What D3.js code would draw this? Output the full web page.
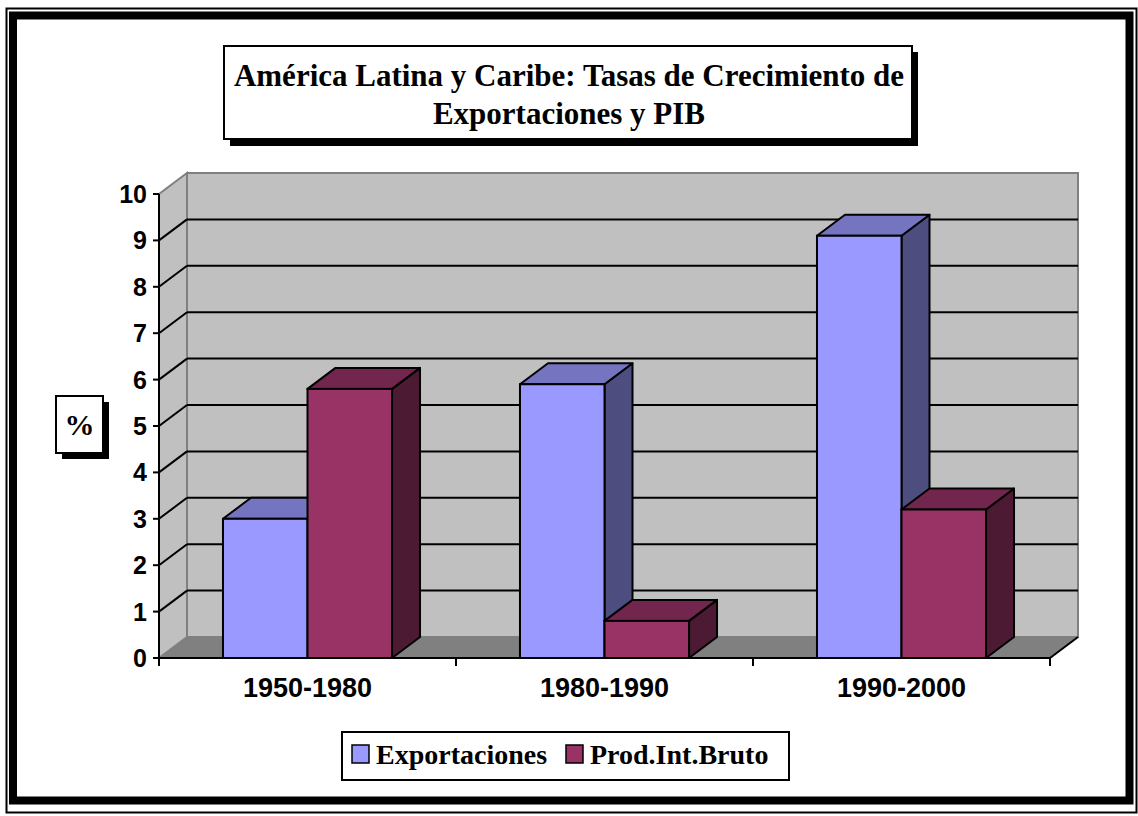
<!DOCTYPE html>
<html>
<head>
<meta charset="utf-8">
<script src="https://d3js.org/d3.v7.min.js"></script>
<style>
  body { margin: 0; background: #fff; }
  .ytick { font-family: "Liberation Sans", Arial, sans-serif; font-weight: bold; font-size: 25px; }
  .xtick { font-family: "Liberation Sans", Arial, sans-serif; font-weight: bold; font-size: 27px; }
  .serif { font-family: "Liberation Serif", "Times New Roman", serif; font-weight: bold; }
</style>
</head>
<body>
<script>
// data
var categories = ['1950-1980', '1980-1990', '1990-2000'];
var seriesNames = ['Exportaciones', 'Prod.Int.Bruto'];
var exportaciones = [3.0, 5.9, 9.1];
var pib = [5.8, 0.8, 3.2];
var yTicks = [0, 1, 2, 3, 4, 5, 6, 7, 8, 9, 10];

var W = 1138, H = 816;
var colors = {
  'Exportaciones': {front: '#9999FF', top: '#7474C0', side: '#4D4D80'},
  'Prod.Int.Bruto': {front: '#993366', top: '#73264D', side: '#4D1A33'}
};

// plot geometry (front plane) and depth
var x0 = 159, x1 = 1050, yBase = 658, yTopPx = 194;
var dx = 28, dy = -21;

var svg = d3.select('body').append('svg')
  .attr('width', W).attr('height', H);

// outer frame: thin line plus thick border
svg.append('rect').attr('x', 6.5).attr('y', 8.5).attr('width', 1130).attr('height', 804)
  .attr('fill', 'none').attr('stroke', '#000').attr('stroke-width', 2);
svg.append('rect').attr('x', 13).attr('y', 15.5).attr('width', 1116.5).attr('height', 785)
  .attr('fill', 'none').attr('stroke', '#000').attr('stroke-width', 8);

var x = d3.scaleBand().domain(categories).range([x0, x1]);
var xs = d3.scaleBand().domain(seriesNames).range([0, x.bandwidth()]).paddingOuter(0.757);
var y = d3.scaleLinear().domain([0, 10]).range([yBase, yTopPx]);

var chart = svg.append('g');

// left wall, back wall, floor
chart.append('polygon')
  .attr('points', [[x0, y(0)], [x0, y(10)], [x0 + dx, y(10) + dy], [x0 + dx, y(0) + dy]].join(' '))
  .attr('fill', '#C0C0C0').attr('stroke', '#808080').attr('stroke-width', 2);
chart.append('rect')
  .attr('x', x0 + dx).attr('y', y(10) + dy)
  .attr('width', x1 - x0).attr('height', y(0) - y(10))
  .attr('fill', '#C0C0C0').attr('stroke', '#808080').attr('stroke-width', 2);
chart.append('polygon')
  .attr('points', [[x0, y(0)], [x1, y(0)], [x1 + dx, y(0) + dy], [x0 + dx, y(0) + dy]].join(' '))
  .attr('fill', '#808080').attr('stroke', '#808080').attr('stroke-width', 1);

// gridlines on back and left walls
var grid = yTicks.filter(function(v) { return v > 0 && v < 10; });
chart.selectAll('.gback').data(grid).enter().append('line')
  .attr('x1', x0 + dx).attr('x2', x1 + dx)
  .attr('y1', function(d) { return y(d) + dy; }).attr('y2', function(d) { return y(d) + dy; })
  .attr('stroke', '#000').attr('stroke-width', 2);
chart.selectAll('.gside').data(grid).enter().append('line')
  .attr('x1', x0).attr('x2', x0 + dx)
  .attr('y1', function(d) { return y(d); }).attr('y2', function(d) { return y(d) + dy; })
  .attr('stroke', '#000').attr('stroke-width', 2);

// floor front-right edge
chart.append('line').attr('x1', x1).attr('y1', y(0)).attr('x2', x1 + dx).attr('y2', y(0) + dy)
  .attr('stroke', '#000').attr('stroke-width', 2);

// bars
var rows = [];
categories.forEach(function(c, i) {
  rows.push({cat: c, s: 'Exportaciones', v: exportaciones[i]});
  rows.push({cat: c, s: 'Prod.Int.Bruto', v: pib[i]});
});
var bars = chart.selectAll('.bar').data(rows).enter().append('g').attr('class', 'bar');
bars.each(function(d) {
  var g = d3.select(this);
  var a = x(d.cat) + xs(d.s), b = a + xs.bandwidth();
  var t = y(d.v), f = y(0);
  g.append('polygon')
    .attr('points', [[b, t], [b + dx, t + dy], [b + dx, f + dy], [b, f]].join(' '))
    .attr('fill', colors[d.s].side).attr('stroke', '#000').attr('stroke-width', 2).attr('stroke-linejoin', 'round');
  g.append('polygon')
    .attr('points', [[a, t], [a + dx, t + dy], [b + dx, t + dy], [b, t]].join(' '))
    .attr('fill', colors[d.s].top).attr('stroke', '#000').attr('stroke-width', 2).attr('stroke-linejoin', 'round');
  g.append('rect')
    .attr('x', a).attr('y', t).attr('width', b - a).attr('height', f - t)
    .attr('fill', colors[d.s].front).attr('stroke', '#000').attr('stroke-width', 2);
});

// axes
chart.append('line').attr('x1', x0).attr('x2', x0).attr('y1', y(10)).attr('y2', y(0))
  .attr('stroke', '#000').attr('stroke-width', 2);
chart.append('line').attr('x1', x0).attr('x2', x1).attr('y1', y(0)).attr('y2', y(0))
  .attr('stroke', '#000').attr('stroke-width', 2);
chart.selectAll('.yt').data(yTicks).enter().append('line')
  .attr('x1', x0 - 6).attr('x2', x0).attr('y1', function(d) { return y(d); }).attr('y2', function(d) { return y(d); })
  .attr('stroke', '#000').attr('stroke-width', 2);
chart.selectAll('.ylab').data(yTicks).enter().append('text')
  .attr('class', 'ytick').attr('text-anchor', 'end')
  .attr('x', x0 - 12).attr('y', function(d) { return y(d); }).attr('dy', '0.36em')
  .text(function(d) { return d; });
var xTickPos = categories.map(function(c) { return x(c); }).concat([x1]);
chart.selectAll('.xt').data(xTickPos).enter().append('line')
  .attr('x1', function(d) { return d; }).attr('x2', function(d) { return d; })
  .attr('y1', y(0)).attr('y2', y(0) + 8)
  .attr('stroke', '#000').attr('stroke-width', 2);
chart.selectAll('.xlab').data(categories).enter().append('text')
  .attr('class', 'xtick').attr('text-anchor', 'middle')
  .attr('x', function(d) { return x(d) + x.bandwidth() / 2; }).attr('y', 697)
  .text(function(d) { return d; });

// title box with shadow
svg.append('rect').attr('x', 230).attr('y', 52).attr('width', 688).attr('height', 94).attr('fill', '#000');
svg.append('rect').attr('x', 224).attr('y', 46).attr('width', 688).attr('height', 93)
  .attr('fill', '#fff').attr('stroke', '#000').attr('stroke-width', 2);
var title = svg.append('text').attr('class', 'serif').attr('text-anchor', 'middle')
  .style('font-size', '31px');
title.append('tspan').attr('x', 569).attr('y', 86).text('América Latina y Caribe: Tasas de Crecimiento de');
title.append('tspan').attr('x', 569).attr('y', 124).text('Exportaciones y PIB');

// "%" box with shadow
svg.append('rect').attr('x', 62).attr('y', 402).attr('width', 47).attr('height', 57).attr('fill', '#000');
svg.append('rect').attr('x', 56).attr('y', 396).attr('width', 47).attr('height', 57)
  .attr('fill', '#fff').attr('stroke', '#000').attr('stroke-width', 2);
svg.append('text').attr('class', 'serif').attr('text-anchor', 'middle')
  .style('font-size', '30px').attr('x', 79.5).attr('y', 435).text('%');

// legend
var lg = svg.append('g');
lg.append('rect').attr('x', 342).attr('y', 732).attr('width', 447).attr('height', 48)
  .attr('fill', '#fff').attr('stroke', '#000').attr('stroke-width', 2);
var legX = [352, 566];
seriesNames.forEach(function(s, i) {
  lg.append('rect').attr('x', legX[i]).attr('y', 745).attr('width', 17).attr('height', 18)
    .attr('fill', colors[s].front).attr('stroke', '#000').attr('stroke-width', 1.5);
  lg.append('text').attr('class', 'serif').style('font-size', '28px')
    .attr('x', legX[i] + 24).attr('y', 764).text(s);
});
</script>
</body>
</html>
